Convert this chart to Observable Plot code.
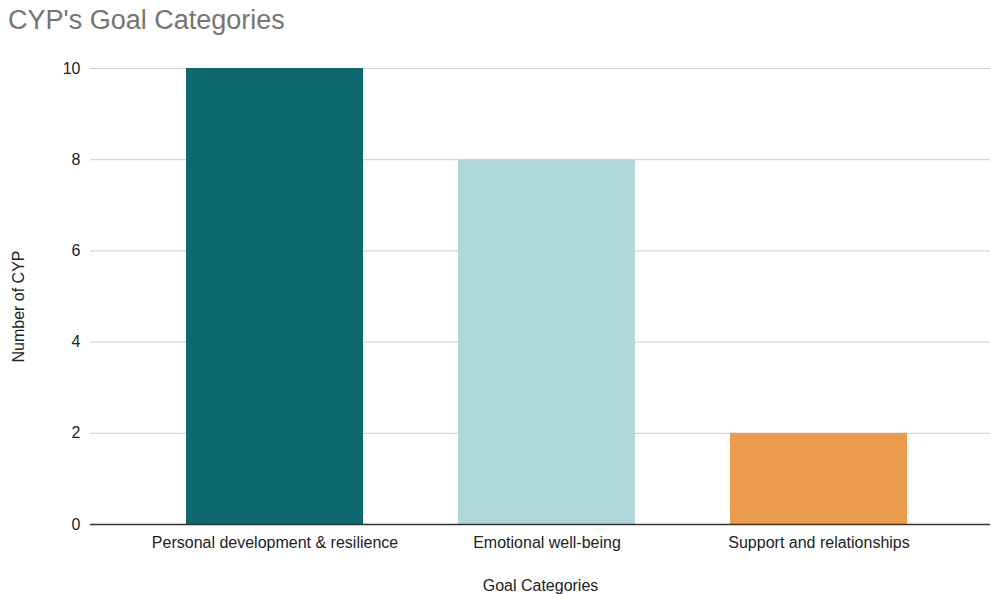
<!DOCTYPE html>
<html>
<head>
<meta charset="utf-8">
<script src="https://cdn.jsdelivr.net/npm/d3@7"></script>
<script src="https://cdn.jsdelivr.net/npm/@observablehq/plot@0.6"></script>
<style>
  html, body { margin: 0; padding: 0; background: #fff; }
  #wrap { position: relative; width: 991px; height: 594px; font-family: "Liberation Sans", Arial, sans-serif; }
  #title { position: absolute; left: 8px; top: 5px; font-size: 27px; color: #757575; white-space: nowrap; }
  svg { display: block; }
</style>
</head>
<body>
<div id="wrap">
  <div id="chart"></div>
  <div id="title">CYP's Goal Categories</div>
</div>
<script>
const categories = ["Personal development & resilience", "Emotional well-being", "Support and relationships"];
const values = [10, 8, 2];
const colors = ["#0c6970", "#b0d8d8", "#ec9a4b"];
const yTicks = [0, 2, 4, 6, 8, 10];

const data = categories.map((c, i) => ({category: c, value: values[i], color: colors[i]}));

const chart = Plot.plot({
  width: 991,
  height: 594,
  marginTop: 68,
  marginBottom: 70,
  marginLeft: 90,
  marginRight: 1,
  style: {fontFamily: "'Liberation Sans', Arial, sans-serif", fontSize: "16px", color: "#222", background: "#fff"},
  x: {domain: categories, paddingInner: 0.35, paddingOuter: 0.3, insetLeft: 13, label: null, tickSize: 0},
  y: {domain: [0, 10], label: null, ticks: yTicks},
  marks: [
    Plot.ruleY(yTicks.filter(d => d > 0), {stroke: "#cccccc", strokeWidth: 1}),
    Plot.barY(data, {x: "category", y: "value", fill: "color"}),
    Plot.ruleY([0], {stroke: "#333333", strokeWidth: 1.5}),
    Plot.axisX({tickSize: 0, tickPadding: 12, fontSize: 16, label: null}),
    Plot.axisY({ticks: yTicks, tickSize: 0, tickPadding: 10, fontSize: 16, label: null}),
    Plot.text(["Goal Categories"], {frameAnchor: "bottom", dy: 66, fontSize: 16, fill: "#222"}),
    Plot.text(["Number of CYP"], {frameAnchor: "left", textAnchor: "middle", dx: -72, dy: 10, rotate: -90, fontSize: 16, fill: "#222"})
  ]
});
document.getElementById("chart").appendChild(chart);
</script>
</body>
</html>
